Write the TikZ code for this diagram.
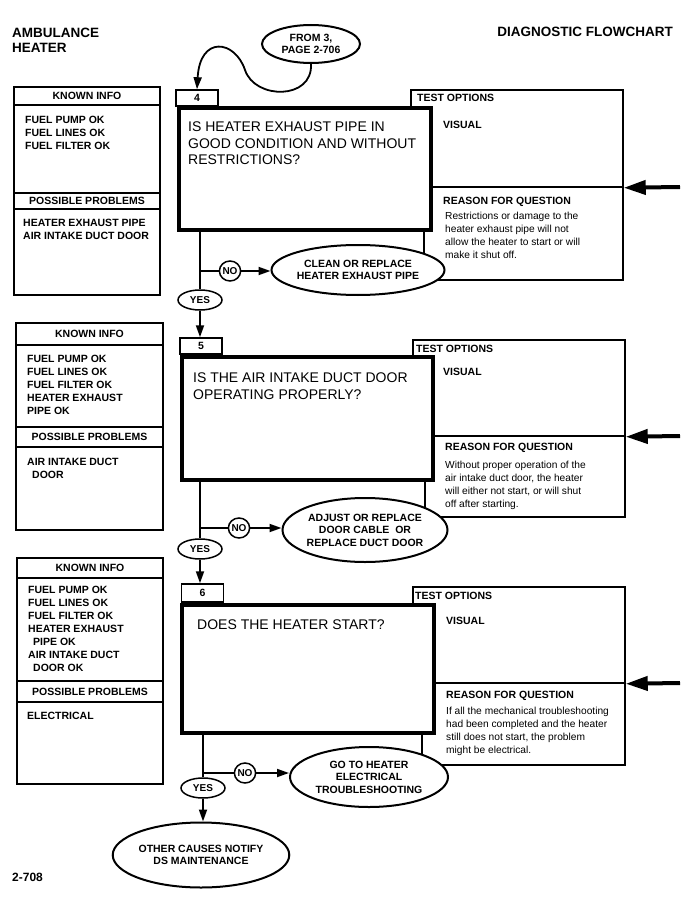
\documentclass[tikz,border=0pt]{standalone}
\usepackage{fontspec}
\setmainfont{Liberation Sans}
\usepackage{tikz}
\usetikzlibrary{shapes.geometric, arrows.meta, positioning}
\tikzset{
    infoframe/.style={draw=black, line width=1.5pt},
    header/.style={font=\fontsize{10.5}{13}\selectfont\bfseries, inner sep=0pt},
    items/.style={font=\fontsize{10.5}{13}\selectfont\bfseries, align=left, anchor=north west, inner sep=0pt},
    question/.style={rectangle, draw=black, line width=4pt, fill=white},
    qtext/.style={font=\fontsize{14}{16.5}\selectfont, align=left, anchor=north west, inner sep=0pt},
    panel/.style={rectangle, draw=black, line width=1.5pt},
    numbox/.style={rectangle, draw=black, line width=1.5pt, minimum width=42pt, minimum height=16pt, inner sep=0pt, font=\fontsize{10.5}{13}\selectfont\bfseries},
    reason/.style={font=\fontsize{10.2}{13}\selectfont, align=left, anchor=north west, inner sep=0pt},
    oval/.style={ellipse, draw=black, fill=white, line width=2pt, align=center, inner sep=0pt, font=\fontsize{10.5}{12.5}\selectfont\bfseries},
    tag/.style={ellipse, draw=black, fill=white, line width=1.5pt, inner sep=0pt, minimum height=20pt, font=\fontsize{10}{12}\selectfont\bfseries},
    link/.style={line width=1.8pt},
    arrow/.style={line width=1.8pt, -{Triangle[length=12pt, width=8pt]}},
    bigarrow/.style={line width=4pt, -{Triangle[length=22pt, width=14pt]}}
}

\begin{document}
\begin{tikzpicture}[x=1pt, y=-1pt]
    \useasboundingbox (0,0) rectangle (695,901);
    \node (title) [anchor=north west, align=left, inner sep=0pt, font=\fontsize{13.5}{15}\selectfont\bfseries] at (12,28) {AMBULANCE\\HEATER};
    \node (chart) [anchor=east, inner sep=0pt, font=\fontsize{13.5}{15}\selectfont\bfseries] at (673,32) {DIAGNOSTIC FLOWCHART};
    \node (from3) [oval, minimum width=98pt, minimum height=38pt] at (311,44) {FROM 3,\\PAGE 2-706};

    % step 4
    \draw [infoframe] (14,87) rectangle (160,295);
    \draw [infoframe] (14,105) -- (160,105) (14,193) -- (160,193) (14,209) -- (160,209);
    \node (known4) [header] at (87,96) {KNOWN INFO};
    \node (have4) [items] at (25,116) {FUEL PUMP OK\\FUEL LINES OK\\FUEL FILTER OK};
    \node (poss4) [header] at (87,201) {POSSIBLE PROBLEMS};
    \node (prob4) [items] at (23,219) {HEATER EXHAUST PIPE\\AIR INTAKE DUCT DOOR};
    \node (t4) [panel, minimum width=212pt, minimum height=97pt] at (517,138.5) {};
    \node (r4) [panel, minimum width=199pt, minimum height=93pt] at (523.5,233.5) {};
    \node (q4) [question, minimum width=252pt, minimum height=122pt] at (305,169) {};
    \node (n4) [numbox] at (197,98) {4};
    \node (ask4) [qtext] at (188,122) {IS HEATER EXHAUST PIPE IN\\GOOD CONDITION AND WITHOUT\\RESTRICTIONS?};
    \node (opt4) [header, anchor=west] at (417,98) {TEST OPTIONS};
    \node (vis4) [header, anchor=west] at (443,125) {VISUAL};
    \node (why4) [header, anchor=west] at (443,202) {REASON FOR QUESTION};
    \node (txt4) [reason] at (445,212) {Restrictions or damage to the\\heater exhaust pipe will not\\allow the heater to start or will\\make it shut off.};
    \node (no4) [tag, minimum width=18pt] at (230,271) {NO};
    \node (fix4) [oval, minimum width=157pt, minimum height=50pt] at (358,270) {CLEAN OR REPLACE\\HEATER EXHAUST PIPE};
    \node (yes4) [tag, minimum width=44pt] at (200,300) {YES};
    \coordinate (in4) at (680,187);
    \coordinate (bend) at (245,70);

    \draw [arrow] (from3.south) .. controls (313,100) and (255,100) .. (bend) .. controls (235,40) and (200,35) .. (n4.north);
    \draw [bigarrow] (in4) -- (t4.south east);
    \draw [link] (yes4.north |- q4.south) -- (yes4.north);
    \draw [link] (yes4.north |- no4) -- (no4);
    \draw [arrow] (no4) -- (no4 -| fix4.west);

    % step 5
    \draw [infoframe] (16,323) rectangle (163,530);
    \draw [infoframe] (16,345) -- (163,345) (16,427) -- (163,427) (16,447) -- (163,447);
    \node (known5) [header] at (89.5,334) {KNOWN INFO};
    \node (have5) [items] at (27,355) {FUEL PUMP OK\\FUEL LINES OK\\FUEL FILTER OK\\HEATER EXHAUST\\PIPE OK};
    \node (poss5) [header] at (89.5,437) {POSSIBLE PROBLEMS};
    \node (prob5) [items] at (27,458) {AIR INTAKE DUCT\\\hspace*{5pt}DOOR};
    \node (t5) [panel, minimum width=212pt, minimum height=96pt] at (519,388) {};
    \node (r5) [panel, minimum width=200pt, minimum height=81pt] at (525,476.5) {};
    \node (q5) [question, minimum width=251pt, minimum height=123pt] at (307.5,418.5) {};
    \node (n5) [numbox] at (201,346) {5};
    \node (ask5) [qtext] at (193,373) {IS THE AIR INTAKE DUCT DOOR\\OPERATING PROPERLY?};
    \node (opt5) [header, anchor=west] at (416,349) {TEST OPTIONS};
    \node (vis5) [header, anchor=west] at (443,372) {VISUAL};
    \node (why5) [header, anchor=west] at (445,448) {REASON FOR QUESTION};
    \node (txt5) [reason] at (445,461) {Without proper operation of the\\air intake duct door, the heater\\will either not start, or will shut\\off after starting.};
    \node (no5) [tag, minimum width=18pt] at (239,528) {NO};
    \node (fix5) [oval, minimum width=165pt, minimum height=64pt] at (365,530) {ADJUST OR REPLACE\\DOOR CABLE~~OR\\REPLACE DUCT DOOR};
    \node (yes5) [tag, minimum width=44pt] at (200,549) {YES};
    \coordinate (in5) at (680,436);

    \draw [arrow] (yes4) -- (yes4 |- n5.north);
    \draw [bigarrow] (in5) -- (t5.south east);
    \draw [link] (yes5.north |- q5.south) -- (yes5.north);
    \draw [link] (yes5.north |- no5) -- (no5);
    \draw [arrow] (no5) -- (no5 -| fix5.west);

    % step 6
    \draw [infoframe] (17,558) rectangle (163,784);
    \draw [infoframe] (17,578) -- (163,578) (17,681) -- (163,681) (17,702) -- (163,702);
    \node (known6) [header] at (90,568) {KNOWN INFO};
    \node (have6) [items] at (28,586) {FUEL PUMP OK\\FUEL LINES OK\\FUEL FILTER OK\\HEATER EXHAUST\\\hspace*{5pt}PIPE OK\\AIR INTAKE DUCT\\\hspace*{5pt}DOOR OK};
    \node (poss6) [header] at (90,692) {POSSIBLE PROBLEMS};
    \node (prob6) [items] at (27,712) {ELECTRICAL};
    \node (t6) [panel, minimum width=212pt, minimum height=96pt] at (519,635) {};
    \node (r6) [panel, minimum width=203pt, minimum height=82pt] at (523.5,724) {};
    \node (q6) [question, minimum width=252pt, minimum height=128pt] at (308,669) {};
    \node (n6) [numbox, minimum height=18pt] at (202.5,593) {6};
    \node (ask6) [qtext, anchor=west] at (197,625) {DOES THE HEATER START?};
    \node (opt6) [header, anchor=west] at (415,596) {TEST OPTIONS};
    \node (vis6) [header, anchor=west] at (446,621) {VISUAL};
    \node (why6) [header, anchor=west] at (446,696) {REASON FOR QUESTION};
    \node (txt6) [reason] at (446,707) {If all the mechanical troubleshooting\\had been completed and the heater\\still does not start, the problem\\might be electrical.};
    \node (no6) [tag, minimum width=18pt] at (245,773) {NO};
    \node (fix6) [oval, minimum width=158pt, minimum height=60pt] at (369,777) {GO TO HEATER\\ELECTRICAL\\TROUBLESHOOTING};
    \node (yes6) [tag, minimum width=44pt] at (203,788) {YES};
    \node (done) [oval, minimum width=142pt, minimum height=65pt] at (201,855) {OTHER CAUSES NOTIFY\\DS MAINTENANCE};
    \node (page) [anchor=west, inner sep=0pt, font=\fontsize{12}{14}\selectfont\bfseries] at (12,877) {2-708};
    \coordinate (in6) at (680,683);

    \draw [arrow] (yes5) -- (yes5 |- n6.north);
    \draw [bigarrow] (in6) -- (t6.south east);
    \draw [link] (yes6.north |- q6.south) -- (yes6.north);
    \draw [link] (yes6.north |- no6) -- (no6);
    \draw [arrow] (no6) -- (no6 -| fix6.west);
    \draw [arrow] (yes6) -- (yes6 |- done.north);
\end{tikzpicture}
\end{document}
